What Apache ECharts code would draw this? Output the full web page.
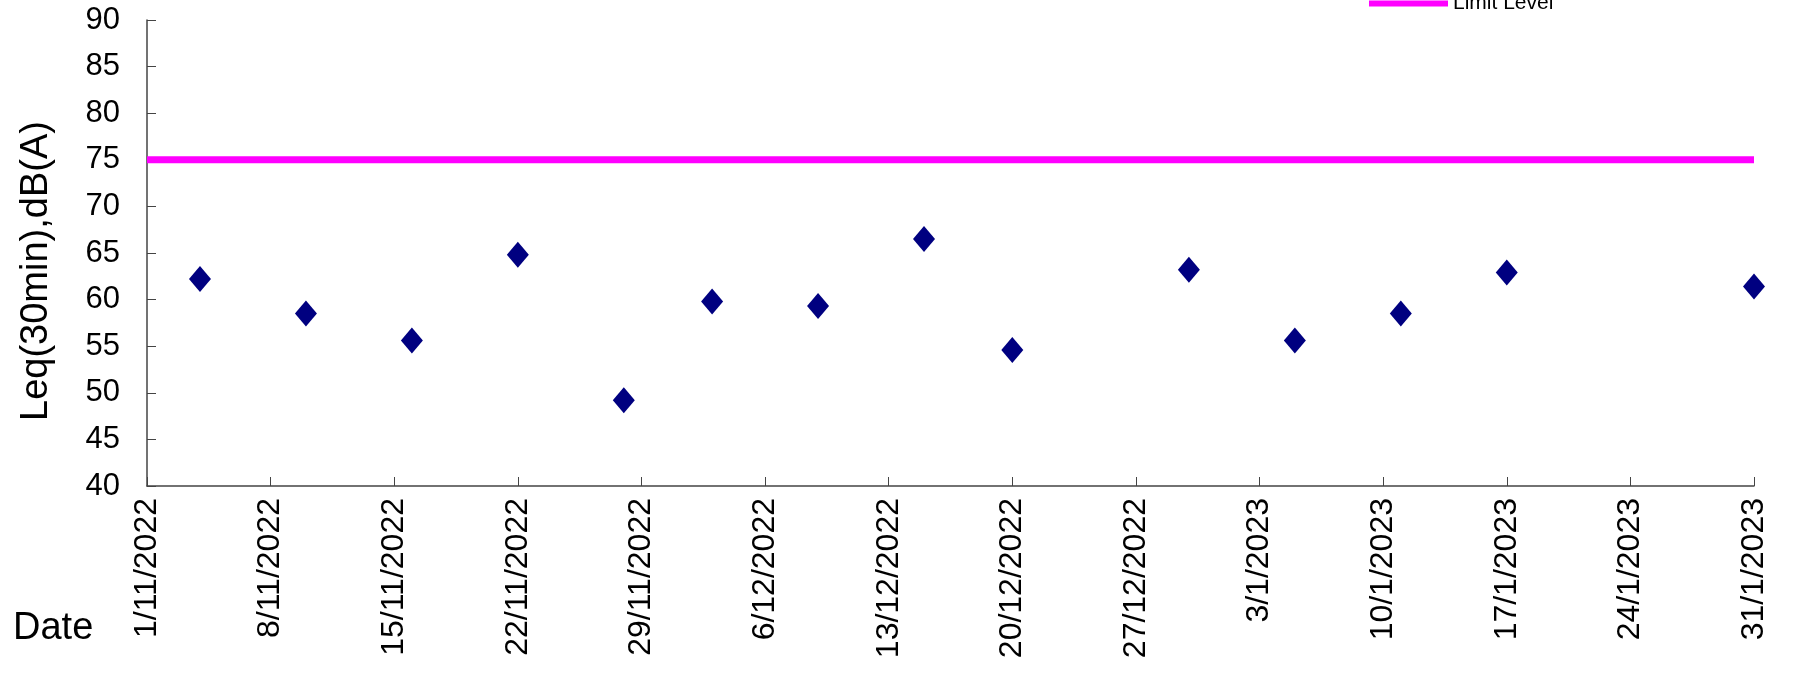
<!DOCTYPE html>
<html>
<head>
<meta charset="utf-8">
<script src="https://cdn.jsdelivr.net/npm/echarts@6/dist/echarts.min.js"></script>
<style>
html,body{margin:0;padding:0;background:#fff;}
#chart{width:1793px;height:673px;}
</style>
</head>
<body>
<div id="chart"></div>
<script>
// ---- data ----
const startDate = '1/11/2022';
const measureDates = ['4/11/2022','10/11/2022','16/11/2022','22/11/2022','28/11/2022','3/12/2022','9/12/2022','15/12/2022','20/12/2022','30/12/2022','5/1/2023','11/1/2023','17/1/2023','31/1/2023'];
const leqValues = [62.2, 58.5, 55.6, 64.8, 49.2, 59.8, 59.3, 66.5, 54.6, 63.2, 55.6, 58.5, 62.9, 61.4];
const limitLevel = 75;
const xTickLabels = ['1/11/2022','8/11/2022','15/11/2022','22/11/2022','29/11/2022','6/12/2022','13/12/2022','20/12/2022','27/12/2022','3/1/2023','10/1/2023','17/1/2023','24/1/2023','31/1/2023'];
const yTicks = [40,45,50,55,60,65,70,75,80,85,90];

function parseDMY(s){const p=s.split('/').map(Number);return Date.UTC(p[2],p[1]-1,p[0]);}
const DAY = 86400000;
const t0 = parseDMY(startDate);
function dayOffset(s){return Math.round((parseDMY(s)-t0)/DAY);}
const xMax = dayOffset(xTickLabels[xTickLabels.length-1]);

const chart = echarts.init(document.getElementById('chart'));
const font = 'Arial, "Liberation Sans", sans-serif';
chart.setOption({
  animation:false,
  backgroundColor:'#fff',
  grid:{left:147,right:39,top:20,bottom:187,containLabel:false,outerBoundsMode:'none'},
  legend:{
    data:['Limit Level'], left:1364, top:-12,
    itemWidth:79, itemHeight:6, itemGap:7, icon:'rect',
    textStyle:{fontFamily:font,fontSize:21,color:'#000'}
  },
  xAxis:{
    type:'value', min:0, max:xMax, interval:7,
    axisLine:{lineStyle:{color:'#444',width:1.5}},
    axisTick:{inside:true,length:9,lineStyle:{color:'#444'}},
    splitLine:{show:false},
    axisLabel:{
      rotate:90, margin:12, fontFamily:font, fontSize:32, color:'#000',
      formatter:v=>xTickLabels[Math.round(v/7)]||''
    }
  },
  yAxis:{
    type:'value', min:yTicks[0], max:yTicks[yTicks.length-1], interval:5,
    name:'Leq(30min),dB(A)', nameLocation:'middle', nameGap:91, nameRotate:90,
    nameTextStyle:{fontFamily:font,fontSize:38,color:'#000',padding:[0,36,0,0]},
    axisLine:{show:true,lineStyle:{color:'#444',width:1.5}},
    axisTick:{show:true,inside:true,length:9,lineStyle:{color:'#444'}},
    splitLine:{show:false},
    axisLabel:{margin:27,fontFamily:font,fontSize:31,color:'#000'}
  },
  graphic:[{type:'text',left:13,top:610,style:{text:'Date',font:'38px Arial, "Liberation Sans", sans-serif',fill:'#000'}}],
  series:[
    {
      name:'Limit Level', type:'line', symbol:'none',
      data:[[0,limitLevel],[xMax,limitLevel]],
      lineStyle:{color:'#FF00FF',width:7}, itemStyle:{color:'#FF00FF'}
    },
    {
      name:'Leq', type:'scatter', symbol:'diamond', symbolSize:[22,26],
      itemStyle:{color:'#000080',opacity:1},
      data:measureDates.map((d,i)=>[dayOffset(d),leqValues[i]])
    }
  ]
});
</script>
</body>
</html>
